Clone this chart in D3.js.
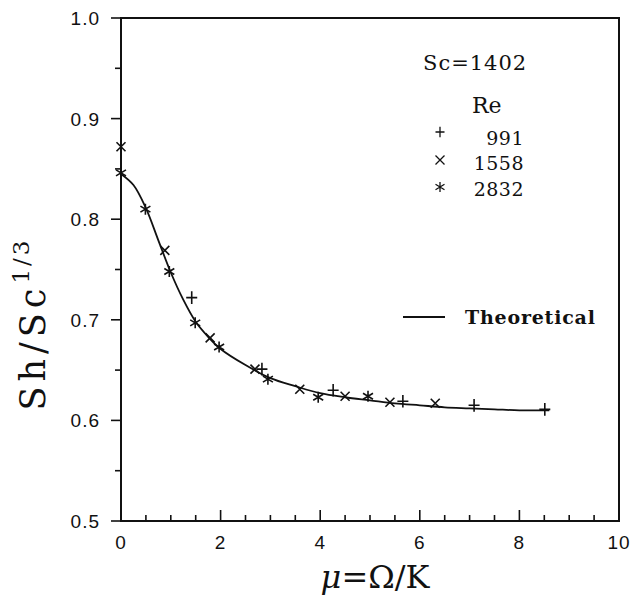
<!DOCTYPE html>
<html><head><meta charset="utf-8">
<script src="https://cdn.jsdelivr.net/npm/d3@7"></script>
<style>body{margin:0;background:#fff}svg{display:block}</style>
</head><body>
<svg id="c" width="633" height="595"></svg>
<script>
// ---- data ----
const xMajorTicks = [0, 2, 4, 6, 8, 10];
const yMajorTicks = [0.5, 0.6, 0.7, 0.8, 0.9, 1.0];
const yTickLabels = ["0.5", "0.6", "0.7", "0.8", "0.9", "1.0"];
const re991x = [1.42, 2.83, 4.26, 5.66, 7.09, 8.51];
const re991y = [0.722, 0.651, 0.630, 0.619, 0.615, 0.611];
const re1558x = [0, 0.88, 1.79, 2.69, 3.59, 4.50, 5.40, 6.31];
const re1558y = [0.872, 0.769, 0.682, 0.651, 0.631, 0.624, 0.618, 0.617];
const re2832x = [0, 0.49, 0.97, 1.49, 1.97, 2.95, 3.96, 4.96];
const re2832y = [0.846, 0.810, 0.748, 0.697, 0.673, 0.641, 0.623, 0.624];
const theoX = [0, 0.25, 0.5, 0.75, 1.0, 1.25, 1.5, 1.75, 2.0, 2.5, 3.0, 3.5, 4.0, 4.5, 5.0, 5.5, 6.0, 6.5, 7.0, 7.5, 8.0, 8.6];
const theoY = [0.845, 0.834, 0.811, 0.779, 0.747, 0.720, 0.698, 0.683, 0.671, 0.655, 0.642, 0.634, 0.627, 0.623, 0.620, 0.617, 0.615, 0.613, 0.612, 0.611, 0.610, 0.610];
const legendLabels = ["991", "1558", "2832"];

const svg = d3.select("#c");
const x = d3.scaleLinear().domain([0, 10]).range([121, 619]);
const y = d3.scaleLinear().domain([0.5, 1.0]).range([521, 18]);
const ink = "#111";
const sans = "'Liberation Sans', Arial, sans-serif";
const serif = "'DejaVu Serif', 'Liberation Serif', serif";

// frame
svg.append("rect").attr("x", x(0)).attr("y", y(1)).attr("width", x(10) - x(0)).attr("height", y(0.5) - y(1))
  .attr("fill", "none").attr("stroke", ink).attr("stroke-width", 2);

// x axis ticks (inward)
const xAll = d3.range(0, 10.01, 0.5);
svg.append("g").selectAll("line").data(xAll).join("line")
  .attr("x1", d => x(d)).attr("x2", d => x(d))
  .attr("y1", y(0.5)).attr("y2", d => y(0.5) - (xMajorTicks.includes(d) ? 11 : 6))
  .attr("stroke", ink).attr("stroke-width", 1.6);
svg.append("g").selectAll("text").data(xMajorTicks).join("text")
  .attr("x", d => x(d)).attr("y", 549).attr("text-anchor", "middle")
  .attr("font-family", sans).attr("font-size", 19).attr("letter-spacing", 1).attr("fill", ink).text(d => d);

// y axis ticks (outward)
const yAll = d3.range(0, 11).map(i => 0.5 + i * 0.05);
svg.append("g").selectAll("line").data(yAll).join("line")
  .attr("y1", d => y(d)).attr("y2", d => y(d))
  .attr("x1", x(0)).attr("x2", (d, i) => x(0) - (i % 2 === 0 ? 10 : 6))
  .attr("stroke", ink).attr("stroke-width", 1.6);
svg.append("g").selectAll("text").data(yMajorTicks).join("text")
  .attr("x", 100).attr("y", d => y(d) + 7).attr("text-anchor", "end")
  .attr("font-family", sans).attr("font-size", 19).attr("letter-spacing", 1).attr("fill", ink).text((d, i) => yTickLabels[i]);

// theoretical curve
const line = d3.line().x(d => x(d[0])).y(d => y(d[1])).curve(d3.curveCatmullRom.alpha(0.5));
svg.append("path").datum(d3.zip(theoX, theoY)).attr("d", line)
  .attr("fill", "none").attr("stroke", ink).attr("stroke-width", 1.8);

// marker symbols
function plus(g, s) { g.append("path").attr("d", `M${-s},0H${s}M0,${-s * 1.15}V${s * 1.15}`); }
function cross(g, s) { g.append("path").attr("d", `M${-s},${-s}L${s},${s}M${-s},${s}L${s},${-s}`); }
function star(g, s) {
  g.append("path").attr("d", `M0,${-s * 1.1}V${s * 1.1}M${-s},${-s * 0.6}L${s},${s * 0.6}M${-s},${s * 0.6}L${s},${-s * 0.6}`);
}
function drawSeries(xs, ys, fn, s) {
  const g = svg.append("g").attr("stroke", ink).attr("stroke-width", 1.6).attr("fill", "none");
  d3.zip(xs, ys).forEach(p => {
    const m = g.append("g").attr("transform", `translate(${x(p[0])},${y(p[1])})`);
    fn(m, s);
  });
}
drawSeries(re991x, re991y, plus, 5.5);
drawSeries(re1558x, re1558y, cross, 4.5);
drawSeries(re2832x, re2832y, star, 5);

// legend
svg.append("text").attr("x", 423).attr("y", 70).attr("font-family", serif).attr("font-size", 21)
  .attr("letter-spacing", 1).attr("fill", ink).text("Sc=1402");
svg.append("text").attr("x", 472).attr("y", 113).attr("font-family", serif).attr("font-size", 22)
  .attr("fill", ink).text("Re");
const legSyms = [plus, cross, star];
const legY = [145, 170, 196];
const legSymY = [132, 160, 187];
legendLabels.forEach((lab, i) => {
  const g = svg.append("g").attr("stroke", ink).attr("stroke-width", 1.3).attr("fill", "none")
    .attr("transform", `translate(440,${legSymY[i]})`);
  legSyms[i](g, 4.5);
  svg.append("text").attr("x", 524).attr("y", legY[i]).attr("text-anchor", "end")
    .attr("font-family", serif).attr("font-size", 19).attr("letter-spacing", 0.5).attr("fill", ink).text(lab);
});
svg.append("line").attr("x1", 403).attr("x2", 445).attr("y1", 317).attr("y2", 317)
  .attr("stroke", ink).attr("stroke-width", 1.8);
svg.append("text").attr("x", 465).attr("y", 324).attr("font-family", serif).attr("font-size", 19)
  .attr("letter-spacing", 0.8).attr("font-weight", 600).attr("fill", ink).text("Theoretical");

// axis titles
const xt = svg.append("text").attr("x", 375).attr("y", 588).attr("text-anchor", "middle")
  .attr("font-family", serif).attr("font-size", 32).attr("fill", ink);
xt.append("tspan").attr("font-style", "italic").text("μ");
xt.append("tspan").text("=Ω/K");

const yt = svg.append("text").attr("transform", "translate(45,324) rotate(-90)").attr("text-anchor", "middle")
  .attr("font-family", serif).attr("font-size", 35).attr("letter-spacing", 5).attr("fill", ink);
yt.append("tspan").text("Sh/Sc");
yt.append("tspan").attr("dy", -16).attr("font-size", 23).attr("letter-spacing", 3).text("1/3");
</script>
</body></html>
